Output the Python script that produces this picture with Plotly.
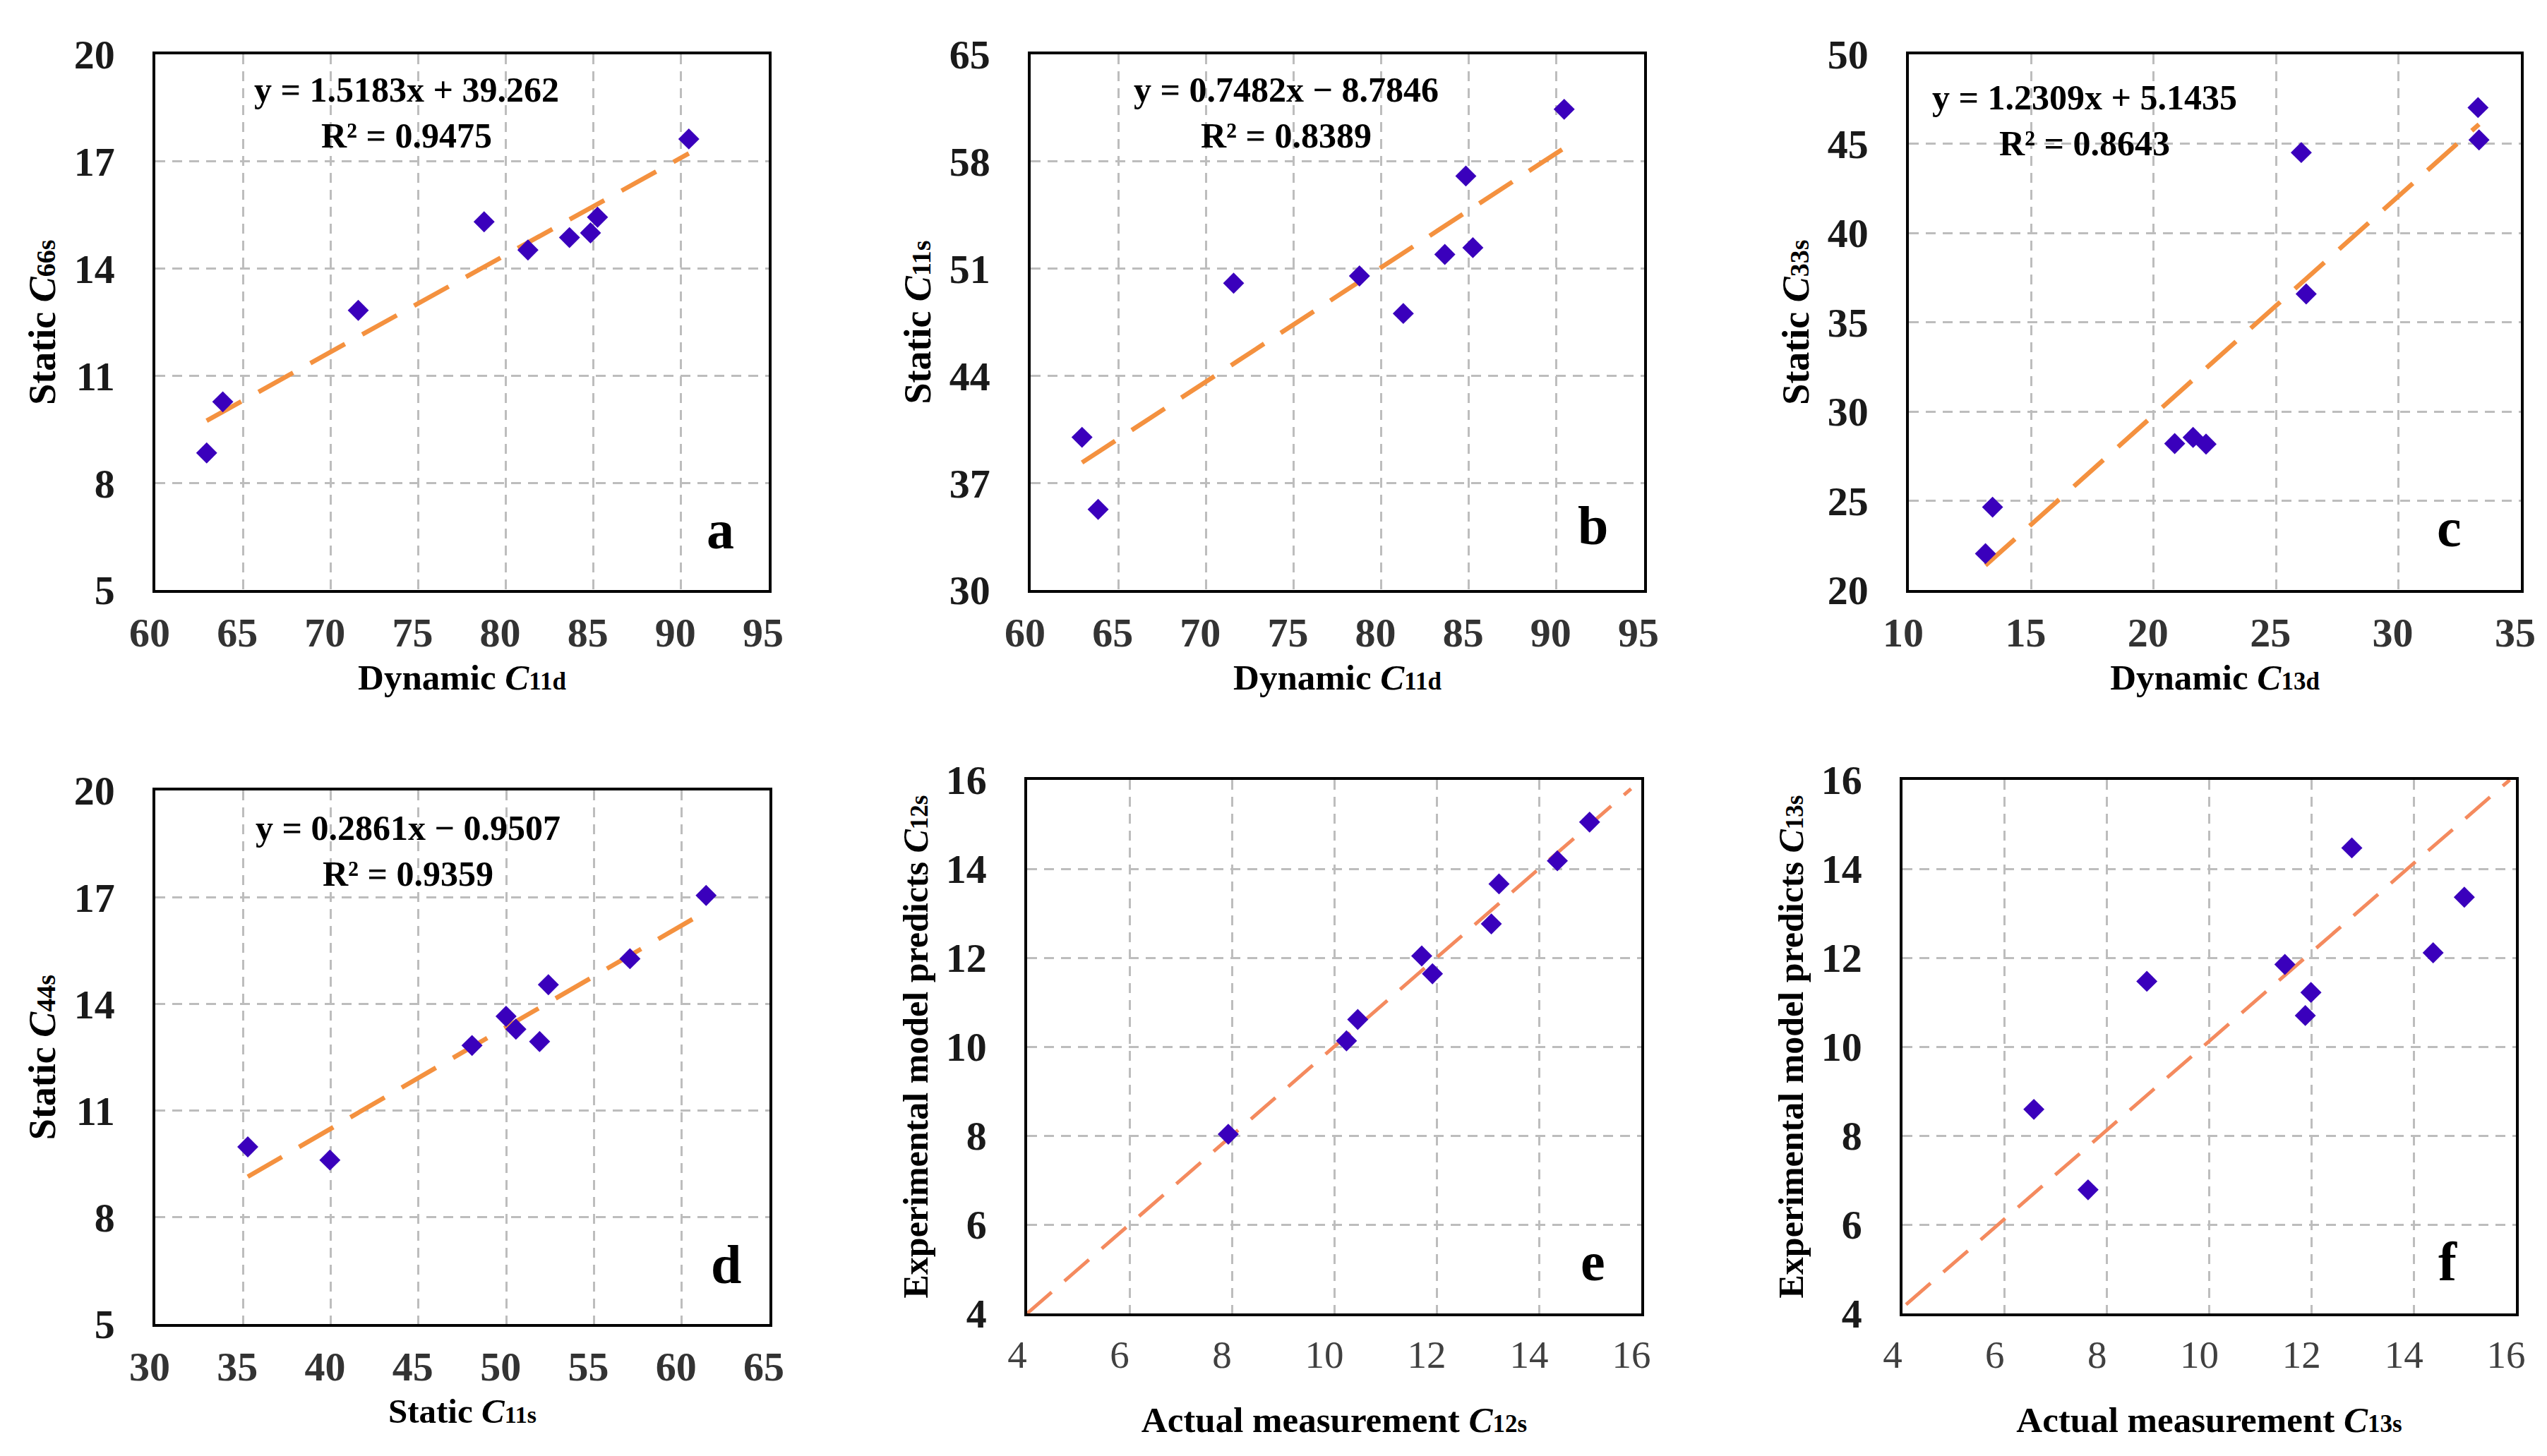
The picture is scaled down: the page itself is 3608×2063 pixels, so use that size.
import numpy as np
import plotly.graph_objects as go

# ---------------- data ----------------
dyn_c11d = [62.93, 63.85, 71.58, 78.76, 81.26, 83.63, 84.83, 85.23, 90.44]
stat_c66s = [8.84, 10.27, 12.83, 15.31, 14.52, 14.87, 15.00, 15.44, 17.63]
stat_c11s_b = [39.98, 35.27, 50.05, 50.52, 48.07, 51.93, 57.05, 52.37, 61.41]

dyn_c13d = [13.13, 13.42, 20.86, 21.61, 22.14, 26.03, 26.23, 33.25, 33.29]
stat_c33s = [22.04, 24.64, 28.20, 28.55, 28.17, 44.50, 36.58, 47.02, 45.21]

stat_c11s_d = [35.27, 39.95, 48.05, 49.99, 50.55, 51.90, 52.40, 57.05, 61.39]
stat_c44s = [9.98, 9.61, 12.83, 13.65, 13.29, 12.94, 14.54, 15.27, 17.05]

meas_c12s = [7.93, 10.24, 10.46, 11.71, 11.92, 13.07, 13.22, 14.36, 14.99]
pred_c12s = [8.03, 10.13, 10.61, 12.04, 11.64, 12.76, 13.66, 14.18, 15.05]

meas_c13s = [6.57, 7.63, 8.78, 11.48, 11.88, 11.99, 12.79, 14.38, 14.99]
pred_c13s = [8.59, 6.78, 11.47, 11.85, 10.70, 11.22, 14.47, 12.11, 13.36]

# 1:1 reference lines of panels e and f
ref_e_x = [4.0, 15.8]
ref_e_y = [4.0, 15.8]
ref_f_x = [4.07, 15.88]
ref_f_y = [4.2, 16.0]

eq_texts = [
    "y = 1.5183x + 39.262<br>R² = 0.9475",
    "y = 0.7482x − 8.7846<br>R² = 0.8389",
    "y = 1.2309x + 5.1435<br>R² = 0.8643",
    "y = 0.2861x − 0.9507<br>R² = 0.9359",
]
panel_letters = ["a", "b", "c", "d", "e", "f"]

def sub(t, px):
    return "<span style='font-size:%dpx'>%s</span>" % (px, t)

x_titles = [
    "Dynamic <i>C</i>" + sub("11d", 35),
    "Dynamic <i>C</i>" + sub("11d", 35),
    "Dynamic <i>C</i>" + sub("13d", 35),
    "Static <i>C</i>" + sub("11s", 34),
    "Actual measurement <i>C</i>" + sub("12s", 35),
    "Actual measurement <i>C</i>" + sub("13s", 35),
]
y_titles = [
    "Static <i>C</i>" + sub("66s", 38),
    "Static <i>C</i>" + sub("11s", 38),
    "Static <i>C</i>" + sub("33s", 38),
    "Static <i>C</i>" + sub("44s", 38),
    "Experimental model predicts <i>C</i>" + sub("12s", 35),
    "Experimental model predicts <i>C</i>" + sub("13s", 35),
]
x_title_sizes = [51, 51, 51, 49, 51, 51]
y_title_sizes = [54, 54, 54, 54, 50, 50]

# ---------------- styling ----------------
W, H = 3608, 2063
FONT = "Liberation Serif"
MARKER_COLOR = "#3A00BC"
TREND_COLOR = "#F4913F"
REF_COLOR = "#F48A5E"

# plot areas in pixels (x0, x1, y_top, y_bottom)
boxes = [
    (212, 1081, 69, 828),
    (1452, 2321, 69, 828),
    (2696, 3563, 69, 828),
    (212, 1082, 1112, 1868),
    (1447, 2317, 1097, 1853),
    (2687, 3556, 1097, 1853),
]
x_ranges = [(60, 95, 5), (60, 95, 5), (10, 35, 5), (30, 65, 5), (4, 16, 2), (4, 16, 2)]
y_ranges = [(5, 20, 3), (30, 65, 7), (20, 50, 5), (5, 20, 3), (4, 16, 2), (4, 16, 2)]

xs = [dyn_c11d, dyn_c11d, dyn_c13d, stat_c11s_d, meas_c12s, meas_c13s]
ys = [stat_c66s, stat_c11s_b, stat_c33s, stat_c44s, pred_c12s, pred_c13s]
refs = {4: (ref_e_x, ref_e_y), 5: (ref_f_x, ref_f_y)}

fig = go.Figure()

for i in range(6):
    sfx = "" if i == 0 else str(i + 1)
    xa, ya = "x" + sfx, "y" + sfx
    x = np.array(xs[i])
    y = np.array(ys[i])
    if i < 4:
        k, b = np.polyfit(x, y, 1)
        lx = np.array([x.min(), x.max()])
        fig.add_trace(go.Scatter(x=lx, y=k * lx + b, mode="lines", xaxis=xa, yaxis=ya,
                                 line=dict(color=TREND_COLOR, width=6.5, dash="56px,28px"),
                                 showlegend=False, hoverinfo="skip"))
    else:
        rx, ry = refs[i]
        fig.add_trace(go.Scatter(x=rx, y=ry, mode="lines", xaxis=xa, yaxis=ya,
                                 line=dict(color=REF_COLOR, width=5, dash="46px,24px"),
                                 showlegend=False, hoverinfo="skip"))
    fig.add_trace(go.Scatter(x=x, y=y, mode="markers", xaxis=xa, yaxis=ya,
                             marker=dict(symbol="diamond", size=23, color=MARKER_COLOR),
                             showlegend=False))

    x0, x1, yt, yb = boxes[i]
    xr, yr = x_ranges[i], y_ranges[i]
    bottom_row = i >= 4
    common = dict(showline=True, linecolor="black", linewidth=3.5, mirror=True,
                  showgrid=True, gridcolor="#BDBDBD", gridwidth=3, griddash="14px,10px",
                  zeroline=False, ticks="", automargin=False)
    if bottom_row:
        xtickfont = dict(family=FONT, size=55, color="#404040", weight="normal")
    else:
        xtickfont = dict(family=FONT, size=58, color="#333333", weight="bold")
    fig.layout["xaxis" + sfx] = dict(
        common, domain=[x0 / W, x1 / W], anchor=ya,
        range=[xr[0], xr[1]], tick0=xr[0], dtick=xr[2],
        tickfont=xtickfont, ticklabelstandoff=7,
        ticklabelshift=-14 if bottom_row else -8,
        title=dict(text=x_titles[i],
                   font=dict(family=FONT, size=x_title_sizes[i], color="black", weight="bold"),
                   standoff=46 if bottom_row else 14),
    )
    fig.layout["yaxis" + sfx] = dict(
        common, domain=[1 - yb / H, 1 - yt / H], anchor=xa,
        range=[yr[0], yr[1]], tick0=yr[0], dtick=yr[2],
        tickfont=dict(family=FONT, size=58, color="#1a1a1a", weight="bold"),
        ticklabelstandoff=42,
        title=dict(text=y_titles[i],
                   font=dict(family=FONT, size=y_title_sizes[i], color="black", weight="bold"),
                   standoff=10),
    )

annotations = []
eq_pos = [(568, 152), (1814, 152), (2945, 162), (570, 1197)]
for i, t in enumerate(eq_texts):
    px, py = eq_pos[i]
    annotations.append(dict(text=t, x=px / W, y=1 - py / H, xref="paper", yref="paper",
                            xanchor="center", yanchor="middle", showarrow=False, align="center",
                            font=dict(family=FONT, size=50, color="black", weight="bold")))
letter_pos = [(1012, 770), (2248, 764), (3461, 767), (1021, 1811), (2248, 1807), (3459, 1807)]
for i, t in enumerate(panel_letters):
    px, py = letter_pos[i]
    annotations.append(dict(text=t, x=px / W, y=1 - (py + 18) / H, xref="paper", yref="paper",
                            xanchor="center", yanchor="bottom", showarrow=False,
                            font=dict(family=FONT, size=78, color="black", weight="bold")))

fig.update_layout(width=W, height=H, margin=dict(l=0, r=0, t=0, b=0),
                  paper_bgcolor="white", plot_bgcolor="white",
                  annotations=annotations)

fig.write_html("out.html")
